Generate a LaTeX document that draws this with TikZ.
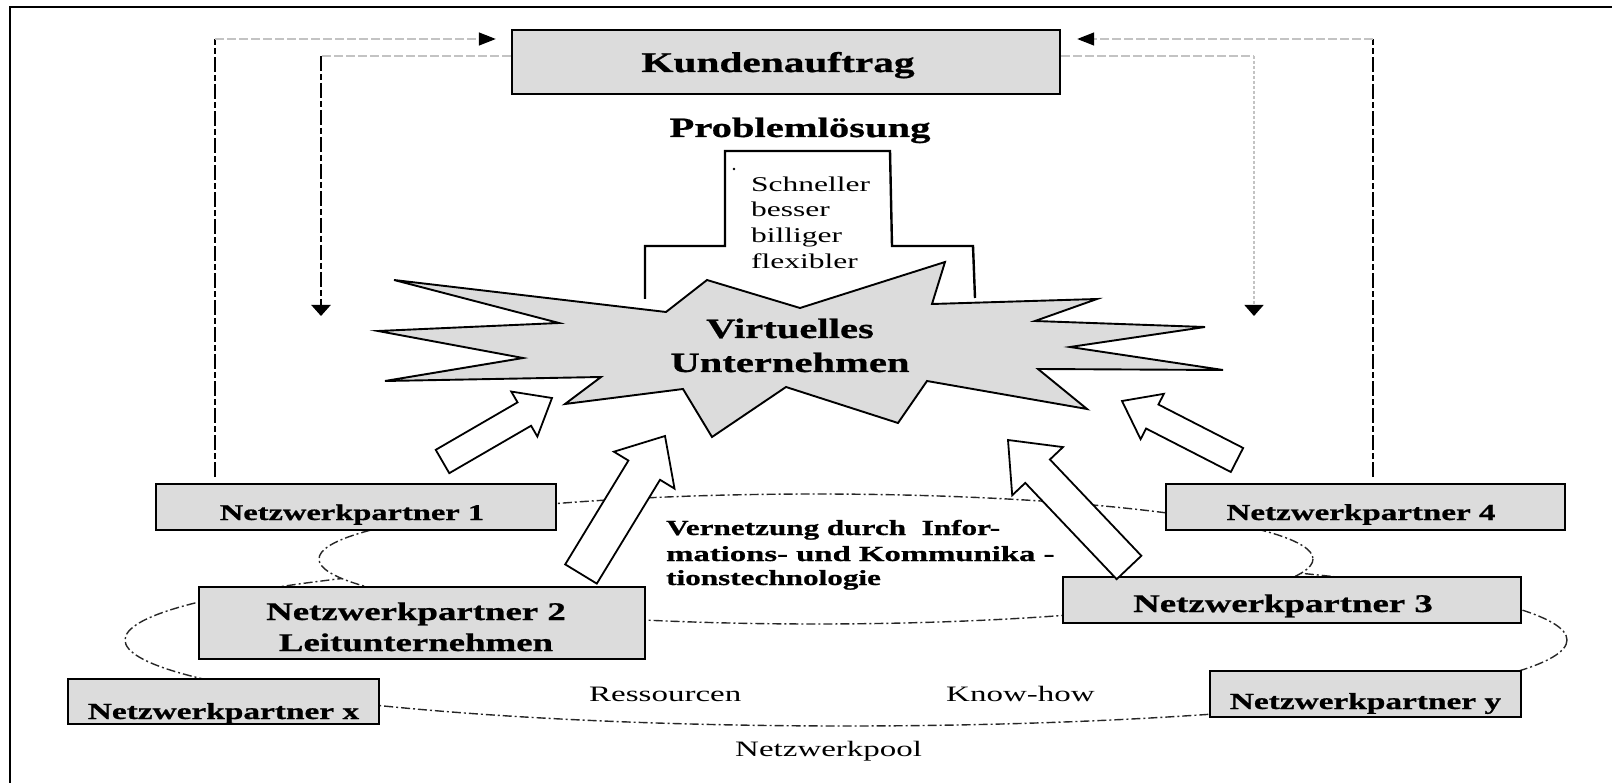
\documentclass[tikz,border=0pt]{standalone}
\usepackage{fontspec}
\setmainfont{Liberation Serif}
\newfontfamily\wideR{Liberation Serif}[FakeStretch=1.5]
\newfontfamily\wideB{Liberation Serif}[FakeStretch=1.45,FakeBold=0.8]
\usetikzlibrary{calc,arrows.meta}
\definecolor{boxgray}{RGB}{220,220,220}
\definecolor{lightdash}{RGB}{195,195,195}
\newcommand{\blockarr}[6]{%
  \coordinate (hb) at ($(#2)!#5!(#1)$);
  \draw[#6] ($(#1)!#3!90:(#2)$) -- ($(hb)!#3!90:(#2)$) -- ($(hb)!#4!90:(#2)$) -- (#2)
    -- ($(hb)!#4!-90:(#2)$) -- ($(hb)!#3!-90:(#2)$) -- ($(#1)!#3!-90:(#2)$) -- cycle;}
\tikzset{
  frameline/.style={line width=2.5pt},
  pbox/.style={draw, line width=2.4pt, fill=boxgray, inner sep=0pt},
  blk/.style={black, line width=2.2pt, dash pattern=on 15pt off 3pt on 6pt off 3pt},
  lgt/.style={lightdash, line width=1.4pt, dash pattern=on 9pt off 3pt},
  lgtdot/.style={lightdash, line width=1.4pt, dash pattern=on 3pt off 2pt},
  htip/.style={-{Triangle[length=17pt,width=13pt,color=black]}},
  vtip/.style={-{Triangle[length=11pt,width=19pt,color=black]}},
  pool/.style={black!85, line width=1.4pt, dash pattern=on 9pt off 3pt on 2pt off 3pt},
  barrow/.style={draw=black, line width=1.8pt, fill=white, line join=miter},
  btxt/.style={inner sep=0pt, anchor=base, font=\wideB\bfseries\fontsize{#1}{#1}\selectfont},
  rtxt/.style={inner sep=0pt, anchor=base west, font=\wideR\fontsize{#1}{#1}\selectfont},
  vtxt/.style={inner sep=0pt, anchor=base west, font=\wideB\bfseries\fontsize{21.5}{21.5}\selectfont},
}
\begin{document}
\begin{tikzpicture}[x=1pt,y=-1pt]
\useasboundingbox (0,0) rectangle (1612,783);
% frame
\draw[frameline] (10,783) -- (10,7) -- (1612,7);
% network pool ellipses
\draw[pool] (846,640) ellipse [x radius=721, y radius=86];
\draw[pool, fill=white] (816,559) ellipse [x radius=497, y radius=65];
% boxes (nodes)
\node[pbox, minimum width=548pt, minimum height=64pt] (kunde) at (786,62) {};
\node[pbox, minimum width=400pt, minimum height=46pt] (np1) at (356,507) {};
\node[pbox, minimum width=446pt, minimum height=72pt] (np2) at (422,623) {};
\node[pbox, minimum width=311pt, minimum height=45pt] (npx) at (223.5,701.5) {};
\node[pbox, minimum width=399pt, minimum height=46pt] (np4) at (1365.5,507) {};
\node[pbox, minimum width=458pt, minimum height=46pt] (np3) at (1292,600) {};
\node[pbox, minimum width=311pt, minimum height=46pt] (npy) at (1365.5,694) {};
% feedback connectors
\coordinate (lo1) at (215,477); \coordinate (lo2) at (215,39);
\coordinate (li1) at (321,56);  \coordinate (li2) at (321,316);
\coordinate (ri1) at (1254,56); \coordinate (ri2) at (1254,316);
\coordinate (ro1) at (1373,477); \coordinate (ro2) at (1373,39);
\draw[blk] (lo1) -- (lo2);
\draw[lgt, htip] (lo2) -- ($(kunde.west |- lo2)+(-15,0)$);
\draw[lgt] (kunde.west |- li1) -- (li1);
\draw[blk, vtip] (li1) -- (li2);
\draw[lgt] (kunde.east |- ri1) -- (ri1);
\draw[lgtdot, vtip] (ri1) -- (ri2);
\draw[blk] (ro1) -- (ro2);
\draw[lgt, htip] (ro2) -- ($(kunde.east |- ro2)+(16,0)$);
% Problemloesung block
\draw[line width=2.4pt, line join=miter] (645,299) -- (645,246) -- (725,246) -- (725,151) -- (890,151) -- (892,246) -- (973,246) -- (975,298);
\fill (734,169) circle (1.3pt);
% star
\draw[fill=boxgray, line width=1.9pt, line join=miter]
  (394,280) -- (666,312) -- (707,280) -- (800,308) -- (945,262) -- (932,304) -- (1097,299)
  -- (1035,321) -- (1205,327) -- (1070,347) -- (1223,370) -- (1038,369) -- (1087,409)
  -- (927,381) -- (898,423) -- (786,387) -- (712,437) -- (683,389) -- (565,404)
  -- (601,377) -- (385,381) -- (523,358) -- (378,331) -- (559,323) -- cycle;
% block arrows
\coordinate (a1t) at (442.5,461.5); \coordinate (a1p) at (552,398);
\coordinate (a2t) at (581,574);     \coordinate (a2p) at (665,436);
\coordinate (a3t) at (1129,567.5);  \coordinate (a3p) at (1008,440);
\coordinate (a4t) at (1237,460);    \coordinate (a4p) at (1122,401);
\blockarr{a1t}{a1p}{13.5pt}{26pt}{32pt}{barrow}
\blockarr{a2t}{a2p}{18.5pt}{35.5pt}{40pt}{barrow}
\blockarr{a3t}{a3p}{17pt}{35pt}{43pt}{barrow}
\blockarr{a4t}{a4p}{13.5pt}{25.5pt}{34pt}{barrow}
% texts
\node[btxt=28.5] (tkunde) at (778,72) {Kundenauftrag};
\node[btxt=28] (tprob) at (800,137) {Problemlösung};
\node[rtxt=21] (ts1) at (751,192) {Schneller};
\node[rtxt=21] (ts2) at (751,217) {besser};
\node[rtxt=21] (ts3) at (751,243) {billiger};
\node[rtxt=21] (ts4) at (751,269) {flexibler};
\node[btxt=28] (tvu1) at (790,338) {Virtuelles};
\node[btxt=28] (tvu2) at (790,372) {Unternehmen};
\node[btxt=22.4] (tnp1) at (352,520) {Netzwerkpartner 1};
\node[btxt=25.4] (tnp2a) at (416,620) {Netzwerkpartner 2};
\node[btxt=25.4] (tnp2b) at (416,651) {Leitunternehmen};
\node[btxt=23] (tnpx) at (223.5,719) {Netzwerkpartner x};
\node[btxt=22.8] (tnp4) at (1361,520) {Netzwerkpartner 4};
\node[btxt=25.4] (tnp3) at (1283,612) {Netzwerkpartner 3};
\node[btxt=23] (tnpy) at (1365.5,709) {Netzwerkpartner y};
\node[vtxt] (tv1) at (666,535) {Vernetzung durch\ \ Infor-};
\node[vtxt] (tv2) at (666,561) {\scalebox{1.05}[1]{mations- und Kommunika -}};
\node[vtxt] (tv3) at (666,585) {tionstechnologie};
\node[rtxt=22] (tres) at (589,701) {Ressourcen};
\node[rtxt=22] (tkh) at (946,701) {Know-how};
\node[rtxt=22] (tpool) at (735,756) {Netzwerkpool};
\end{tikzpicture}
\end{document}
